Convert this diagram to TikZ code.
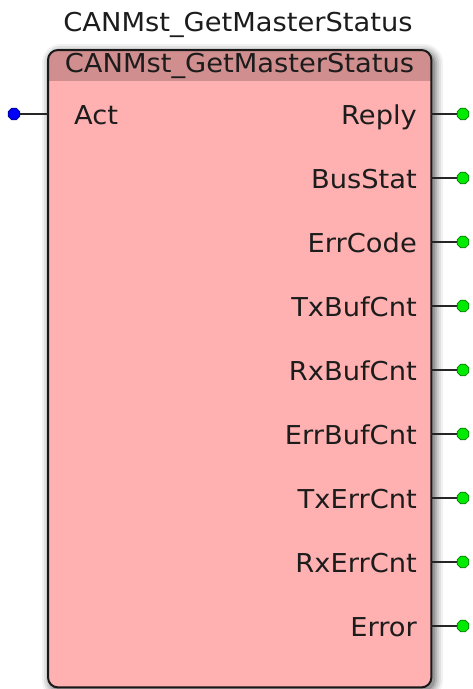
\documentclass[tikz,border=0pt]{standalone}
\usepackage{fontspec}
\setmainfont{DejaVu Sans}[FakeStretch=1.05]
\usetikzlibrary{shapes.geometric}
\definecolor{bodyc}{RGB}{255,176,176}
\definecolor{headc}{RGB}{208,142,142}
\definecolor{txtc}{RGB}{28,28,28}
\definecolor{pinin}{RGB}{0,0,250}
\definecolor{pinout}{RGB}{0,235,0}
\begin{document}
\begin{tikzpicture}[x=1pt,y=-1pt,
  lbl/.style={font=\fontsize{26}{26}\selectfont, text=txtc, inner sep=0pt},
  pindot/.style={regular polygon, regular polygon sides=8, minimum size=12.5pt, inner sep=0pt, line width=0.6pt},
  indot/.style={pindot, fill=pinin, draw=pinin!55!black},
  outdot/.style={pindot, fill=pinout, draw=pinout!50!black},
  wire/.style={line width=1.5pt, draw=black!85}
]
\useasboundingbox (0,0) rectangle (472,689);
% shadow glow
\foreach \g/\o in {9/0.05,7/0.07,5/0.09,3/0.12,1/0.16}{
  \fill[black, opacity=\o, rounded corners=10pt+\g pt] (51-\g,53-\g) rectangle (434+\g,690+\g);
}
% title
\node[lbl] (title) at (238,25) {CANMst\_GetMasterStatus};
% box
\node[fill=bodyc, rounded corners=10pt, minimum width=383pt, minimum height=637pt, anchor=north west, inner sep=0pt] (box) at (48,50) {};
\begin{scope}
  \clip[rounded corners=10pt] (box.north west) rectangle (box.south east);
  \node[fill=headc, minimum width=383pt, minimum height=31pt, anchor=north west, inner sep=0pt] (hdr) at (box.north west) {};
\end{scope}
\draw[line width=2pt, draw=black!90, rounded corners=10pt] (box.north west) rectangle (box.south east);
\node[lbl] (hdrtxt) at (239.5,66) {CANMst\_GetMasterStatus};
% input
\node[lbl, anchor=base west] (act) at (74,124) {Act};
\node[indot] (inact) at (14,114) {};
\draw[wire] (inact) -- (inact -| box.west);
% outputs
\foreach \t [count=\i] in {Reply,BusStat,ErrCode,TxBufCnt,RxBufCnt,ErrBufCnt,TxErrCnt,RxErrCnt,Error}{
  \pgfmathsetmacro{\yy}{114+64*(\i-1)}
  \node[lbl, anchor=base east] (l\i) at (417,\yy+10) {\t};
  \node[outdot] (o\i) at (463,\yy) {};
  \draw[wire] (o\i -| box.east) -- (o\i);
}
\end{tikzpicture}
\end{document}
